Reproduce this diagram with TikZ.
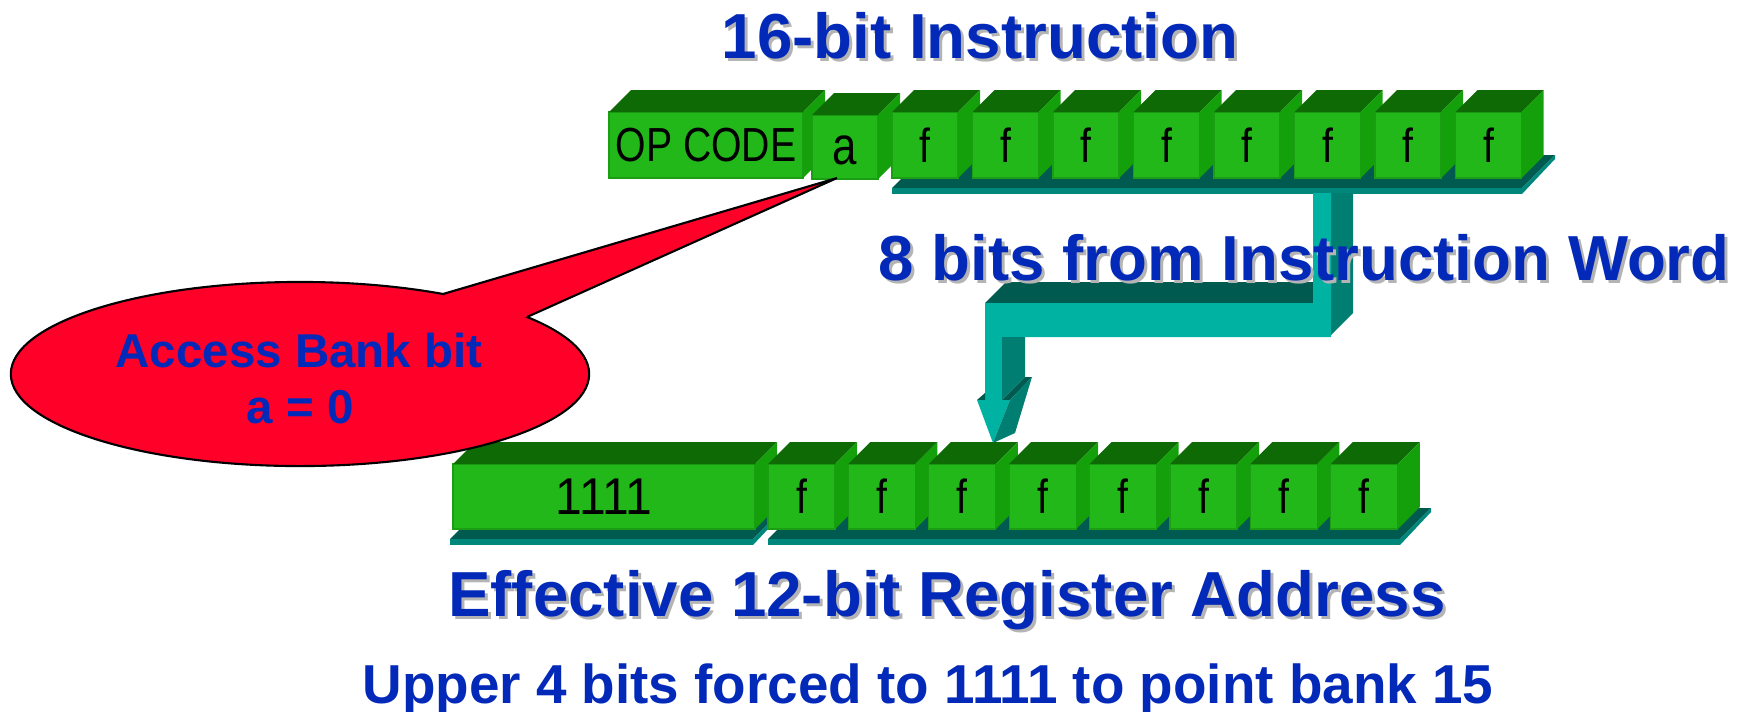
\documentclass[tikz,border=0pt]{standalone}
\usepackage{fontspec}
\setmainfont{Liberation Sans}
\newfontfamily\narrowsans[FakeStretch=0.82]{Liberation Sans}
\newfontfamily\digitsans[FakeStretch=0.93]{Liberation Sans}
\usetikzlibrary{calc}

\definecolor{cubefront}{HTML}{22B81A}
\definecolor{cubeedge}{HTML}{1B9E13}
\definecolor{cubetop}{HTML}{0E6A05}
\definecolor{cubeside}{HTML}{14A00A}
\definecolor{platetop}{HTML}{005A50}
\definecolor{platefront}{HTML}{00877C}
\definecolor{arrowfront}{HTML}{00B2A2}
\definecolor{arrowside}{HTML}{007E72}
\definecolor{arrowtop}{HTML}{005A50}
\definecolor{calloutred}{HTML}{FF0029}
\definecolor{titleblue}{HTML}{0329B9}
\definecolor{titleshade}{HTML}{B4B4B4}

\tikzset{
  cube/.style={draw=cubeedge, line width=0.35pt, fill=cubefront, inner sep=0pt,
    outer sep=0pt, text=black, font=\narrowsans\fontsize{13.6}{14}\selectfont},
  cubetopface/.style={fill=cubetop},
  cubesideface/.style={fill=cubeside},
  title/.style={text=titleblue, inner sep=0pt, anchor=base,
    font=\bfseries\fontsize{18.1}{20}\selectfont},
  subtitle/.style={text=titleblue, inner sep=0pt, anchor=base,
    font=\bfseries\fontsize{15.6}{17}\selectfont},
  calloutlabel/.style={text=titleblue, inner sep=0pt, anchor=base,
    font=\bfseries\fontsize{13.5}{15}\selectfont},
}

% top and right faces of a box whose front face is node #1, depth 22
\newcommand\cubefaces[1]{%
  \fill[cubetopface] (#1.north west) -- ++(22,-22)
    -- ([shift={(22,-22)}]#1.north east) -- (#1.north east) -- cycle;
  \fill[cubesideface] (#1.north east) -- ++(22,-22)
    -- ([shift={(22,-22)}]#1.south east) -- (#1.south east) -- cycle;}

% base slab: front edge from x=#1 to x=#2 at height #3, depth #4
\newcommand\slab[4]{%
  \fill[platetop] (#1,#3) -- (#2,#3) -- ++(#4,-#4) -- (#1+#4,#3-#4) -- cycle;
  \fill[platefront] (#1,#3) rectangle (#2,#3+6);
  \fill[platefront] (#2,#3) -- ++(#4,-#4) -- ++(0,4) -- (#2,#3+6) -- cycle;}

% text with a grey drop shadow
\newcommand\shadowtitle[4]{%
  \node[#1, text=titleshade] (#2-shadow) at ([shift={(3,3)}]#3) {#4};
  \node[#1] (#2) at (#3) {#4};}

\begin{document}
\begin{tikzpicture}[x=0.01cm,y=-0.01cm]
\useasboundingbox (0,0) rectangle (1750,711);

% ---------- 16-bit instruction word ----------
\slab{892}{1522}{188}{33}

\node[cube, anchor=north west, minimum width={194*0.01cm}, minimum height={66*0.01cm}]
  (opcode) at (609,112) {OP CODE};
\cubefaces{opcode}
\node[cube, anchor=north west, minimum width={66*0.01cm}, minimum height={64*0.01cm},
  font=\narrowsans\fontsize{15.2}{16}\selectfont, text height=10.2pt, text depth=0pt]
  (abit) at (812,115) {a};
\cubefaces{abit}
\foreach \k in {0,...,7}{
  \node[cube, anchor=north west, minimum width={66*0.01cm}, minimum height={66*0.01cm}]
    (top\k) at (892+80.5*\k,112) {f};
  \cubefaces{top\k}
}

% ---------- block arrow carrying the 8 file bits ----------
\fill[arrowtop] (985,303) -- (1006,282) -- (1313,282) -- (1313,303) -- cycle;
\fill[arrowside] (1331,193) -- (1353,193) -- (1353,313) -- (1331,335) -- cycle;
\fill[arrowfront] (1313,193) -- (1331,193) -- (1331,337) -- (1002,337)
  -- (1002,400) -- (985,400) -- (985,303) -- (1313,303) -- cycle;
\fill[arrowside] (1002,337) -- (1025,337) -- (1025,377) -- (1002,400) -- cycle;
\fill[arrowtop] (1002,400) -- (1025,377) -- (1032,377) -- (1010,400) -- cycle;
\fill[arrowtop] (977,400) -- (985,393) -- (985,400) -- cycle;
\fill[arrowfront] (977,400) -- (1010,400) -- (993,443) -- cycle;
\fill[arrowside] (1010,400) -- (1032,377) -- (1015,433) -- (993,443) -- cycle;

% ---------- effective 12-bit address ----------
\slab{450}{753}{539}{31}
\slab{768}{1400}{539}{31}

\node[cube, anchor=north west, minimum width={302*0.01cm}, minimum height={65*0.01cm},
  font=\digitsans\fontsize{14.7}{15}\selectfont]
  (upper) at (453,464) {1111};
\cubefaces{upper}
\foreach \k in {0,...,7}{
  \node[cube, anchor=north west, minimum width={67*0.01cm}, minimum height={65*0.01cm}]
    (low\k) at (768+80.4*\k,464) {f};
  \cubefaces{low\k}
}

% ---------- callout for the access bank bit ----------
\coordinate (tip) at (837,178);
\filldraw[fill=calloutred, draw=black, line width=0.6pt]
  (300,374) ellipse [x radius=2.89cm, y radius=0.92cm];
\fill[calloutred] (443,294) -- (tip) -- (527,317) -- (480,330) -- cycle;
\draw[black, line width=0.6pt, line join=miter] (443,294) -- (tip) -- (527,317);
\node[calloutlabel] (callout1) at (299,367) {Access Bank bit};
\node[calloutlabel] (callout2) at (300,423) {a = 0};

% ---------- captions ----------
\shadowtitle{title}{head}{980,58}{16-bit Instruction}
\shadowtitle{title}{srcbits}{1304,280}{8 bits from Instruction Word}
\shadowtitle{title}{effaddr}{947,616}{Effective 12-bit Register Address}
\node[subtitle] (note) at (928,703) {Upper 4 bits forced to 1111 to point bank 15};

\end{tikzpicture}
\end{document}
